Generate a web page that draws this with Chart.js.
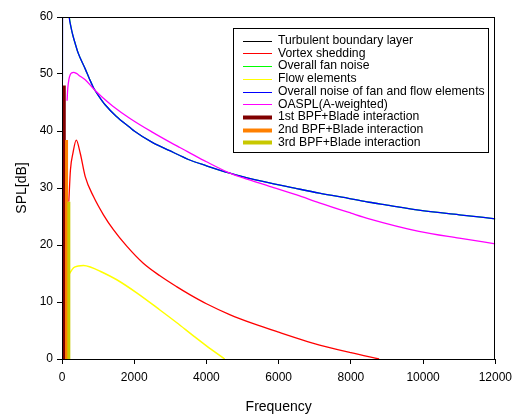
<!DOCTYPE html>
<html><head><meta charset="utf-8">
<script src="https://cdn.jsdelivr.net/npm/chart.js@4/dist/chart.umd.min.js"></script>
<style>html,body{margin:0;padding:0;background:#fff;overflow:hidden}</style>
</head><body>
<canvas id="c" width="517" height="414"></canvas>
<script>
// ---- data ----
const seriesLabels = ["Turbulent boundary layer","Vortex shedding","Overall fan noise","Flow elements","Overall noise of fan and flow elements","OASPL(A-weighted)","1st BPF+Blade interaction","2nd BPF+Blade interaction","3rd BPF+Blade interaction"];
const xTicks = [0,2000,4000,6000,8000,10000,12000];
const yTicks = [0,10,20,30,40,50,60];

const turbF = [5, 5];
const turbV = [0, 49];

const vortexF = [189,234,303,394,505,643,872,1148,1423,1793,2251,2712,3172,3539,4000,4643,5300,6000,6941,8000,8781];
const vortexV = [27.6,33.2,36.1,38.4,36.1,32.0,28.5,25.3,22.7,19.8,16.8,14.6,12.7,11.3,9.7,7.8,6.2,4.7,2.8,1.1,0];

const fanF = [200,250,300,367,430,505,643,750,872,1000,1194,1500,1884,2000,2500,3000,3263,3500,4000,4648,5000,5746,6500,7126,8000,8505,9000,9884,11000,12000];
const fanV = [60,58.2,56.8,55.3,54.0,52.8,50.9,49.3,47.6,46.3,44.6,42.6,40.6,40.0,38.0,36.5,35.7,35.0,33.9,32.6,32.0,30.9,29.9,29.1,28.1,27.5,27.0,26.1,25.3,24.6];

const flowF = [189,320,450,596,800,1057,1517,2069,2712,3172,3631,4000,4505];
const flowV = [14.8,16.0,16.3,16.4,16.1,15.4,13.9,11.6,8.6,6.4,4.1,2.3,0];

const totalF = [12,20,100,200,250,300,367,430,505,643,750,872,1000,1194,1500,1884,2000,2500,3000,3263,3500,4000,4648,5000,5746,6500,7126,8000,8505,9000,9884,11000,12000];
const totalV = [49,80,70,60,58.2,56.8,55.3,54.0,52.8,50.9,49.3,47.6,46.3,44.6,42.6,40.6,40.0,38.0,36.5,35.7,35.0,33.9,32.6,32.0,30.9,29.9,29.1,28.1,27.5,27.0,26.1,25.3,24.6];

const oasplF = [140,160,190,230,270,320,400,505,643,872,1100,1400,1884,2500,3000,3263,3500,4000,4648,5000,5746,6500,7126,8000,8505,9884,11000,12000];
const oasplV = [45.3,47.5,49.0,49.9,50.2,50.3,50.1,49.6,49.0,47.4,46.0,44.4,42.2,39.8,38.0,37.1,36.3,34.6,32.6,31.8,30.3,28.8,27.4,25.6,24.6,22.4,21.2,20.2];

const bpf1F = [63,63];   const bpf1V = [0,48.0];
const bpf2F = [126,126]; const bpf2V = [0,38.4];
const bpf3F = [189,189]; const bpf3V = [0,27.6];

// ---- styles ----
const colors = ["#000000","#ff0000","#00ff00","#ffff00","#0000ff","#ff00ff","#800000","#ff8000","#c8c800"];
const widths = [1.3,1.3,1.3,1.5,1.3,1.3,3,3,3];
const legendWidths = [1,1,1,1,1,1,4,4,4];
const drawOrder = [9,6,8,7,5,4,3,2,1];

function pts(f, v){ return f.map((x,i)=>({x:x, y:v[i]})); }
const allF = [turbF,vortexF,fanF,flowF,totalF,oasplF,bpf1F,bpf2F,bpf3F];
const allV = [turbV,vortexV,fanV,flowV,totalV,oasplV,bpf1V,bpf2V,bpf3V];

const datasets = seriesLabels.map((lab,i)=>({
  label: lab,
  data: pts(allF[i], allV[i]),
  borderColor: colors[i],
  backgroundColor: colors[i],
  borderWidth: widths[i],
  pointRadius: 0,
  fill: false,
  cubicInterpolationMode: i>=6 ? 'default' : 'monotone',
  tension: 0,
  order: drawOrder[i]
}));

const FONT = "'Liberation Sans', Arial, sans-serif";

const framePlugin = {
  id:'frame',
  afterDatasetsDraw(chart){
    const {ctx, chartArea:a} = chart;
    ctx.save();
    ctx.strokeStyle = '#000';
    ctx.lineWidth = 1;
    ctx.strokeRect(Math.round(a.left)+0.5, Math.round(a.top)+0.5, Math.round(a.right-a.left)-1, Math.round(a.bottom-a.top));
    ctx.restore();
  }
};

const legendPlugin = {
  id:'boxLegend',
  afterDraw(chart){
    const ctx = chart.ctx;
    const bx=233.5, by=28.5, bw=255, bh=124;
    ctx.save();
    ctx.fillStyle='#fff';
    ctx.fillRect(bx,by,bw,bh);
    ctx.strokeStyle='#000'; ctx.lineWidth=1;
    ctx.strokeRect(bx,by,bw,bh);
    ctx.font = "12.2px " + FONT;
    ctx.textBaseline='middle';
    seriesLabels.forEach((lab,i)=>{
      const y = 40.7 + i*12.7;
      ctx.strokeStyle = colors[i];
      ctx.lineWidth = legendWidths[i];
      ctx.beginPath();
      ctx.moveTo(243, Math.round(y)+0.5);
      ctx.lineTo(272, Math.round(y)+0.5);
      ctx.stroke();
      ctx.fillStyle = '#000';
      ctx.fillText(lab, 278, y);
    });
    ctx.restore();
  }
};

new Chart(document.getElementById('c'), {
  type:'line',
  data:{ datasets },
  options:{
    responsive:false,
    animation:false,
    devicePixelRatio:1,
    layout:{ padding:{ top:17, right:21, left:0, bottom:0 } },
    plugins:{ legend:{display:false}, tooltip:{enabled:false} },
    scales:{
      x:{
        type:'linear', min:0, max:12000,
        afterBuildTicks: s => { s.ticks = xTicks.map(v=>({value:v})); },
        afterFit: s => { s.height = 55; },
        ticks:{ color:'#000', font:{family:FONT, size:12, lineHeight:1.5}, padding:5, maxRotation:0, callback:v=>String(v) },
        grid:{ display:true, drawOnChartArea:false, drawTicks:true, tickLength:5, color:'#000' },
        border:{ display:false },
        title:{ display:true, text:'Frequency', color:'#000', font:{family:FONT, size:14}, padding:{top:0,bottom:-2} }
      },
      y:{
        type:'linear', min:0, max:60,
        afterBuildTicks: s => { s.ticks = yTicks.map(v=>({value:v})); },
        afterFit: s => { s.width = 62; },
        ticks:{ color:'#000', font:{family:FONT, size:12}, padding:4, callback:v=>String(v) },
        grid:{ display:true, drawOnChartArea:false, drawTicks:true, tickLength:5, color:'#000' },
        border:{ display:false },
        title:{ display:true, text:'SPL[dB]', color:'#000', font:{family:FONT, size:14}, padding:{top:14,bottom:0} }
      }
    }
  },
  plugins:[framePlugin, legendPlugin]
});
</script>
</body></html>
